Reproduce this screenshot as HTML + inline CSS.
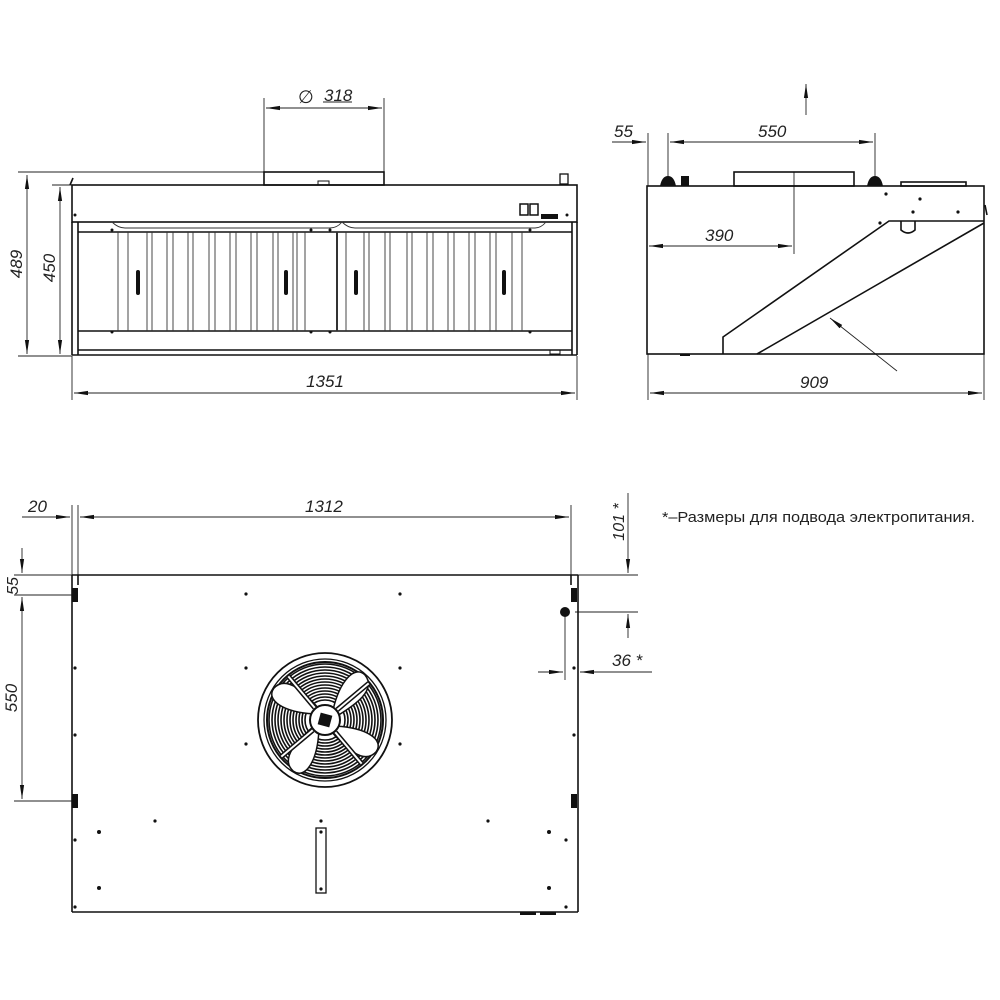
<!DOCTYPE html>
<html><head><meta charset="utf-8"><style>html,body{margin:0;padding:0;background:#fff}svg{display:block}
text{font-family:"Liberation Sans","DejaVu Sans",sans-serif;font-style:italic;fill:#222}</style></head>
<body>
<svg width="1000" height="1000" viewBox="0 0 1000 1000" xmlns="http://www.w3.org/2000/svg">
<defs>
<marker id="a" viewBox="0 0 10 10" refX="10" refY="5" markerWidth="14" markerHeight="6" markerUnits="userSpaceOnUse" orient="auto-start-reverse" preserveAspectRatio="none"><path d="M0,1.5 L10,5 L0,8.5z" fill="#111"/></marker>
</defs>
<g stroke="#222" fill="none" stroke-width="0.9">
<line x1="264" y1="98" x2="264" y2="180"/><line x1="384" y1="98" x2="384" y2="180"/>
<line x1="266" y1="108" x2="382" y2="108" marker-start="url(#a)" marker-end="url(#a)"/>
<line x1="323" y1="102" x2="352" y2="102"/>
<line x1="18" y1="172" x2="264" y2="172"/>
<line x1="52" y1="185" x2="72" y2="185"/>
<line x1="18" y1="356" x2="72" y2="356"/>
<line x1="27" y1="175" x2="27" y2="354" marker-start="url(#a)" marker-end="url(#a)"/>
<line x1="60" y1="187" x2="60" y2="354" marker-start="url(#a)" marker-end="url(#a)"/>
<line x1="72" y1="356" x2="72" y2="400"/><line x1="577" y1="356" x2="577" y2="400"/>
<line x1="74" y1="393" x2="575" y2="393" marker-start="url(#a)" marker-end="url(#a)"/>
</g>
<g stroke="#111" fill="none" stroke-width="1.6">
<rect x="264" y="172" width="120" height="13"/>
<rect x="72" y="185" width="505" height="37"/>
<line x1="72" y1="222" x2="72" y2="355"/><line x1="78" y1="222" x2="78" y2="355"/>
<line x1="577" y1="222" x2="577" y2="355"/><line x1="572" y1="222" x2="572" y2="355"/>
<line x1="72" y1="355" x2="577" y2="355"/>
<line x1="78" y1="350" x2="572" y2="350"/>
<line x1="78" y1="232" x2="572" y2="232"/>
<line x1="78" y1="331" x2="572" y2="331"/>
<line x1="70" y1="185" x2="73" y2="178"/>
<rect x="520" y="204" width="8" height="11" stroke-width="1.5"/><rect x="530" y="204" width="8" height="11" stroke-width="1.5"/>
<rect x="560" y="174" width="8" height="10" stroke-width="1.3"/>
</g>
<g fill="#111"><rect x="541" y="214" width="17" height="5"/><rect x="318" y="181" width="11" height="4" fill="none" stroke="#111"/></g>
<g stroke="#333" fill="none" stroke-width="0.9">
<path d="M112 222 Q118 228 125 228 L330 228 Q337 228 342 222"/>
<path d="M342 222 Q348 228 355 228 L535 228 Q541 228 546 222"/>
<line x1="118" y1="232" x2="118" y2="331"/><line x1="128" y1="232" x2="128" y2="331"/>
<line x1="147" y1="232" x2="147" y2="331"/><line x1="152" y1="232" x2="152" y2="331"/>
<line x1="167" y1="232" x2="167" y2="331"/><line x1="173" y1="232" x2="173" y2="331"/>
<line x1="188" y1="232" x2="188" y2="331"/><line x1="193" y1="232" x2="193" y2="331"/>
<line x1="209" y1="232" x2="209" y2="331"/><line x1="215" y1="232" x2="215" y2="331"/>
<line x1="230" y1="232" x2="230" y2="331"/><line x1="236" y1="232" x2="236" y2="331"/>
<line x1="251" y1="232" x2="251" y2="331"/><line x1="257" y1="232" x2="257" y2="331"/>
<line x1="273" y1="232" x2="273" y2="331"/><line x1="278" y1="232" x2="278" y2="331"/>
<line x1="293" y1="232" x2="293" y2="331"/><line x1="297" y1="232" x2="297" y2="331"/>
<line x1="305" y1="232" x2="305" y2="331"/><line x1="337" y1="232" x2="337" y2="331" stroke-width="2"/>
<line x1="346" y1="232" x2="346" y2="331"/><line x1="364" y1="232" x2="364" y2="331"/><line x1="369" y1="232" x2="369" y2="331"/>
<line x1="385" y1="232" x2="385" y2="331"/><line x1="390" y1="232" x2="390" y2="331"/>
<line x1="407" y1="232" x2="407" y2="331"/><line x1="412" y1="232" x2="412" y2="331"/>
<line x1="427" y1="232" x2="427" y2="331"/><line x1="433" y1="232" x2="433" y2="331"/>
<line x1="448" y1="232" x2="448" y2="331"/><line x1="454" y1="232" x2="454" y2="331"/>
<line x1="469" y1="232" x2="469" y2="331"/><line x1="475" y1="232" x2="475" y2="331"/>
<line x1="490" y1="232" x2="490" y2="331"/><line x1="496" y1="232" x2="496" y2="331"/>
<line x1="512" y1="232" x2="512" y2="331"/><line x1="522" y1="232" x2="522" y2="331"/>
</g>
<g fill="#111">
<rect x="136" y="270" width="4" height="25" rx="2"/><rect x="284" y="270" width="4" height="25" rx="2"/>
<rect x="354" y="270" width="4" height="25" rx="2"/><rect x="502" y="270" width="4" height="25" rx="2"/>
<circle cx="75" cy="215" r="1.5"/><circle cx="567" cy="215" r="1.5"/>
<circle cx="112" cy="230" r="1.5"/><circle cx="311" cy="230" r="1.5"/><circle cx="330" cy="230" r="1.5"/><circle cx="530" cy="230" r="1.5"/>
<circle cx="112" cy="332" r="1.5"/><circle cx="311" cy="332" r="1.5"/><circle cx="330" cy="332" r="1.5"/><circle cx="530" cy="332" r="1.5"/>
<rect x="550" y="350" width="10" height="4" fill="none" stroke="#111"/>
</g>
<text x="298" y="103" font-size="18">∅</text>
<text x="324" y="101" font-size="17">318</text>
<text transform="translate(22,264) rotate(-90)" font-size="17" text-anchor="middle">489</text>
<text transform="translate(55,268) rotate(-90)" font-size="17" text-anchor="middle">450</text>
<text x="325" y="387" font-size="17" text-anchor="middle">1351</text>

<g stroke="#222" fill="none" stroke-width="0.9">
<line x1="648" y1="133" x2="648" y2="186"/><line x1="668" y1="133" x2="668" y2="182"/><line x1="875" y1="133" x2="875" y2="182"/>
<line x1="612" y1="142" x2="646" y2="142" marker-end="url(#a)"/>
<line x1="670" y1="142" x2="873" y2="142" marker-start="url(#a)" marker-end="url(#a)"/>
<line x1="806" y1="115" x2="806" y2="84" marker-end="url(#a)"/>
<line x1="794" y1="172" x2="794" y2="254"/>
<line x1="649" y1="246" x2="792" y2="246" marker-start="url(#a)" marker-end="url(#a)"/>
<line x1="648" y1="354" x2="648" y2="400"/><line x1="984" y1="230" x2="984" y2="400"/>
<line x1="650" y1="393" x2="982" y2="393" marker-start="url(#a)" marker-end="url(#a)"/>
<line x1="897" y1="371" x2="830" y2="318" marker-end="url(#a)"/>
</g>
<g stroke="#111" fill="none" stroke-width="1.6">
<rect x="734" y="172" width="120" height="14"/>
<rect x="647" y="186" width="337" height="168"/>
<path d="M723 354 L723 337 L889 221 L984 221"/>
<line x1="757" y1="354" x2="984" y2="223"/>
<rect x="901" y="182" width="65" height="4"/>
<path d="M901 221 L901 230 Q908 236 915 230 L915 221"/>
<line x1="985" y1="205" x2="987" y2="215"/>
</g>
<g fill="#111">
<path d="M660 186 Q662 176 668 176 Q674 176 676 186z"/><path d="M867 186 Q869 176 875 176 Q881 176 883 186z"/>
<rect x="681" y="176" width="8" height="10"/>
<circle cx="886" cy="194" r="1.6"/><circle cx="920" cy="199" r="1.6"/><circle cx="913" cy="212" r="1.6"/><circle cx="958" cy="212" r="1.6"/><circle cx="880" cy="223" r="1.6"/>
<rect x="680" y="354" width="10" height="2"/>
</g>
<text x="614" y="137" font-size="17">55</text>
<text x="758" y="137" font-size="17">550</text>
<text x="705" y="241" font-size="17">390</text>
<text x="800" y="388" font-size="17">909</text>

<g stroke="#222" fill="none" stroke-width="0.9">
<line x1="72" y1="505" x2="72" y2="575"/><line x1="78" y1="505" x2="78" y2="575"/><line x1="571" y1="505" x2="571" y2="575"/>
<line x1="22" y1="517" x2="70" y2="517" marker-end="url(#a)"/>
<line x1="80" y1="517" x2="569" y2="517" marker-start="url(#a)" marker-end="url(#a)"/>
<line x1="578" y1="575" x2="638" y2="575"/><line x1="575" y1="612" x2="638" y2="612"/>
<line x1="628" y1="493" x2="628" y2="573" marker-end="url(#a)"/>
<line x1="628" y1="638" x2="628" y2="614" marker-end="url(#a)"/>
<line x1="565" y1="612" x2="565" y2="680"/>
<line x1="538" y1="672" x2="563" y2="672" marker-end="url(#a)"/>
<line x1="652" y1="672" x2="580" y2="672" marker-end="url(#a)"/>
<line x1="14" y1="575" x2="72" y2="575"/><line x1="14" y1="595" x2="72" y2="595"/><line x1="14" y1="801" x2="72" y2="801"/>
<line x1="22" y1="548" x2="22" y2="573" marker-end="url(#a)"/>
<line x1="22" y1="597" x2="22" y2="799" marker-start="url(#a)" marker-end="url(#a)"/>
</g>
<g stroke="#111" fill="none" stroke-width="1.6">
<line x1="72" y1="575" x2="578" y2="575"/>
<line x1="72" y1="575" x2="72" y2="912"/><line x1="578" y1="575" x2="578" y2="912"/>
<line x1="72" y1="912" x2="578" y2="912"/>
<line x1="78" y1="575" x2="78" y2="585"/><line x1="571" y1="575" x2="571" y2="585"/>
<rect x="316" y="828" width="10" height="65" stroke-width="1.3"/>
<circle cx="325" cy="720" r="67" stroke-width="1.8"/>
<circle cx="325" cy="720" r="61" stroke-width="1.3"/>
</g>
<g fill="#111">
<rect x="72" y="588" width="6" height="14"/><rect x="571" y="588" width="6" height="14"/>
<rect x="72" y="794" width="6" height="14"/><rect x="571" y="794" width="6" height="14"/>
<circle cx="565" cy="612" r="5"/>
<circle cx="246" cy="594" r="1.6"/><circle cx="400" cy="594" r="1.6"/>
<circle cx="246" cy="668" r="1.6"/><circle cx="400" cy="668" r="1.6"/>
<circle cx="246" cy="744" r="1.6"/><circle cx="400" cy="744" r="1.6"/>
<circle cx="75" cy="668" r="1.6"/><circle cx="75" cy="735" r="1.6"/>
<circle cx="574" cy="668" r="1.6"/><circle cx="574" cy="735" r="1.6"/>
<circle cx="155" cy="821" r="1.6"/><circle cx="321" cy="821" r="1.6"/><circle cx="488" cy="821" r="1.6"/>
<circle cx="99" cy="832" r="2"/><circle cx="549" cy="832" r="2"/>
<circle cx="75" cy="840" r="1.6"/><circle cx="566" cy="840" r="1.6"/>
<circle cx="99" cy="888" r="2"/><circle cx="549" cy="888" r="2"/>
<circle cx="75" cy="907" r="1.6"/><circle cx="566" cy="907" r="1.6"/>
<circle cx="321" cy="832" r="1.6"/><circle cx="321" cy="889" r="1.6"/>
<rect x="520" y="912" width="16" height="3"/><rect x="540" y="912" width="16" height="3"/>
</g>
<g transform="translate(325,720)">
<g fill="none" stroke="#111" stroke-width="1.6">
<circle r="20"/><circle r="23"/><circle r="26"/><circle r="29"/><circle r="32"/><circle r="35"/><circle r="38"/><circle r="41"/><circle r="44"/><circle r="47"/><circle r="50"/><circle r="53"/><circle r="56"/>
</g>
<circle r="58" fill="none" stroke="#111" stroke-width="2"/>
<g fill="#fff" stroke="#111" stroke-width="1.5">
<path d="M8,-10 C15,-40 30,-55 40,-45 C52,-30 30,-15 12,-4z"/>
<path d="M8,-10 C15,-40 30,-55 40,-45 C52,-30 30,-15 12,-4z" transform="rotate(80)"/>
<path d="M8,-10 C15,-40 30,-55 40,-45 C52,-30 30,-15 12,-4z" transform="rotate(170)"/>
<path d="M8,-10 C15,-40 30,-55 40,-45 C52,-30 30,-15 12,-4z" transform="rotate(260)"/>
</g>
<g stroke="#111" stroke-width="5">
<line x1="0" y1="-16" x2="0" y2="-57" transform="rotate(-40)"/>
<line x1="0" y1="-16" x2="0" y2="-57" transform="rotate(50)"/>
<line x1="0" y1="-16" x2="0" y2="-57" transform="rotate(140)"/>
<line x1="0" y1="-16" x2="0" y2="-57" transform="rotate(230)"/>
</g>
<g stroke="#fff" stroke-width="2">
<line x1="0" y1="-16" x2="0" y2="-57" transform="rotate(-40)"/>
<line x1="0" y1="-16" x2="0" y2="-57" transform="rotate(50)"/>
<line x1="0" y1="-16" x2="0" y2="-57" transform="rotate(140)"/>
<line x1="0" y1="-16" x2="0" y2="-57" transform="rotate(230)"/>
</g>
<circle r="15" fill="#fff" stroke="#111" stroke-width="2"/>
<rect x="-6" y="-6" width="12" height="12" fill="#111" transform="rotate(15)"/>
</g>
<text x="28" y="512" font-size="17">20</text>
<text x="305" y="512" font-size="17">1312</text>
<text transform="translate(18,586) rotate(-90)" font-size="16" text-anchor="middle">55</text>
<text transform="translate(17,698) rotate(-90)" font-size="17" text-anchor="middle">550</text>
<text transform="translate(624,522) rotate(-90)" font-size="16" text-anchor="middle">101 *</text>
<text x="612" y="666" font-size="17">36 *</text>
<text x="662" y="522" font-size="15" textLength="313" lengthAdjust="spacingAndGlyphs" style="font-style:normal">*–Размеры для подвода электропитания.</text>
</svg>
</body></html>
